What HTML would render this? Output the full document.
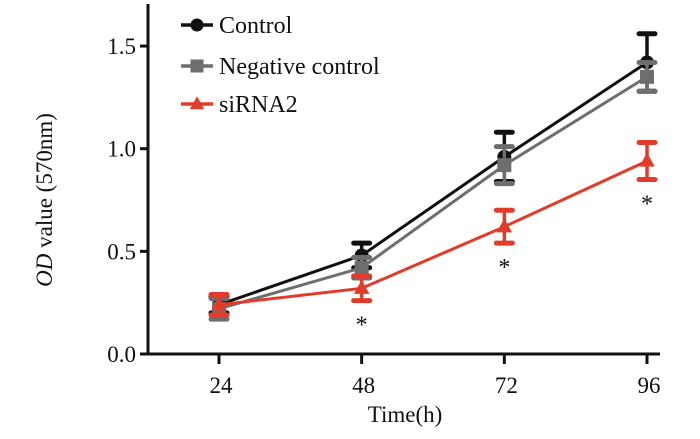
<!DOCTYPE html>
<html><head><meta charset="utf-8"><style>
body{margin:0;background:#fff}
svg, svg text{font-family:"Liberation Serif",serif}
</style></head><body>
<svg id="c" width="700" height="434" font-family="Liberation Serif, serif"></svg>
<script>
const categories=[24,48,72,96];
const controlVals=[0.24,0.48,0.96,1.42];
const controlErr=[0.04,0.06,0.12,0.14];
const ncVals=[0.22,0.42,0.92,1.35];
const ncErr=[0.05,0.05,0.09,0.07];
const siVals=[0.24,0.32,0.62,0.94];
const siErr=[0.05,0.06,0.08,0.09];
const sigFlags=[0,1,1,1];
const yTicks=[0,0.5,1.0,1.5];
const yTickLabels=["0.0","0.5","1.0","1.5"];
const NS="http://www.w3.org/2000/svg";
const svg=document.getElementById('c');
const x=v=>219+(v-24)*(428/72);
const y=v=>354-v*205.3;
function mk(t,a,p){const e=document.createElementNS(NS,t);for(const k in a)e.setAttribute(k,a[k]);if(t==='text'){e.setAttribute('style','font-family:"Liberation Serif",serif');e.setAttribute('fill','#111');}(p||svg).appendChild(e);return e;}
let ax=mk('g',{});


mk('line',{x1:148,y1:4,x2:148,y2:355.5,stroke:'#111','stroke-width':3},ax);
mk('line',{x1:146.5,y1:354,x2:660,y2:354,stroke:'#111','stroke-width':3},ax);
yTicks.forEach((v,i)=>{
 mk('line',{x1:140,y1:y(v),x2:148,y2:y(v),stroke:'#111','stroke-width':3},ax);
 const t=mk('text',{x:136,y:y(v)+8,'text-anchor':'end','font-size':23},ax);t.textContent=yTickLabels[i];
 
 
});
categories.forEach(c=>{
 mk('line',{x1:x(c),y1:354,x2:x(c),y2:364,stroke:'#111','stroke-width':3},ax);
 const t=mk('text',{x:x(c)+2,y:393,'text-anchor':'middle','font-size':23},ax);t.textContent=c;
 
 
});
let xt=mk('text',{x:405,y:422,'text-anchor':'middle','font-size':23});xt.textContent='Time(h)';


let yt=mk('text',{transform:'translate(52,200) rotate(-90)','text-anchor':'middle','font-size':23});
yt.innerHTML='<tspan font-style="italic">OD</tspan> value (570nm)';


function marker(g,type,cx,cy,col,s){
 if(type==='circle')mk('circle',{cx,cy,r:s,fill:col},g);
 else if(type==='square')mk('rect',{x:cx-s,y:cy-s,width:2*s,height:2*s,fill:col},g);
 else mk('polygon',{points:`${cx},${cy-s*1.2} ${cx-s*1.1},${cy+s*0.8} ${cx+s*1.1},${cy+s*0.8}`,fill:col},g);
}
function series(name,vals,errs,col,type){
 const g=mk('g',{});
 
 
 mk('polyline',{points:vals.map((v,i)=>x(categories[i])+','+y(v)).join(' '),fill:'none',stroke:col,'stroke-width':3},g);
 vals.forEach((v,i)=>{
  const cx=x(categories[i]);
  mk('line',{x1:cx,y1:y(v+errs[i]),x2:cx,y2:y(v-errs[i]),stroke:col,'stroke-width':3.5},g);
  [v+errs[i],v-errs[i]].forEach(e=>mk('line',{x1:cx-8,y1:y(e),x2:cx+8,y2:y(e),stroke:col,'stroke-width':5,'stroke-linecap':'round'},g));
  marker(g,type,cx,y(v),col,7);
 });
}
series('control',controlVals,controlErr,'#111','circle');
series('negative-control',ncVals,ncErr,'#6e6e6e','square');
series('sirna2',siVals,siErr,'#e23b2a','triangle');
sigFlags.forEach((f,i)=>{if(!f)return;
 const t=mk('text',{x:x(categories[i]),y:y(siVals[i]-siErr[i])+32,'text-anchor':'middle','font-size':24});t.textContent='*';
 
 
});
const legend=[['Control','#111','circle',25],['Negative control','#6e6e6e','square',66],['siRNA2','#e23b2a','triangle',104]];
legend.forEach(l=>{
 const g=mk('g',{});
 
 
 mk('line',{x1:181,y1:l[3],x2:213,y2:l[3],stroke:l[1],'stroke-width':3.5},g);
 marker(g,l[2],197,l[3],l[1],6.5);
 const t=mk('text',{x:219,y:l[3]+8,'font-size':24},g);t.textContent=l[0];
});
</script>
</body></html>
